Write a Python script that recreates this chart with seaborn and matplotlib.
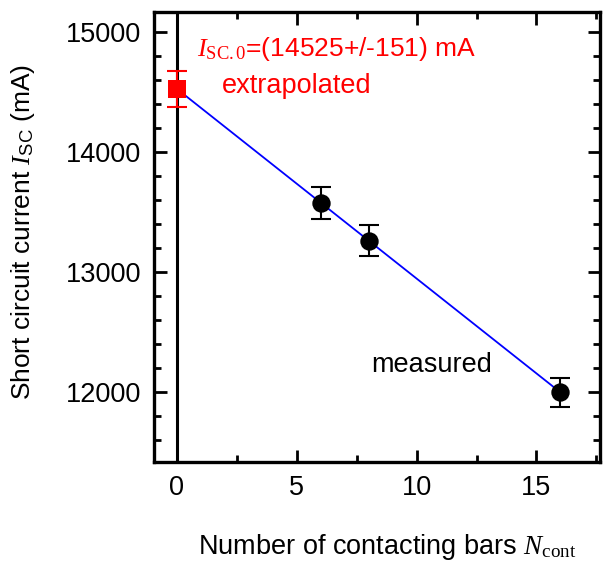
import numpy as np
import pandas as pd
import matplotlib
matplotlib.use("Agg")
import matplotlib.pyplot as plt
import seaborn as sns
from matplotlib.ticker import MultipleLocator

# measured points
n_cont = [6, 8, 16]
i_sc = [13575, 13258, 11995]
i_sc_err = [135, 130, 120]

# extrapolated value at N_cont = 0
n_extra = [0]
i_extra = [14525]
i_extra_err = [151]

# linear fit endpoints
fit_x = [0, 16]
fit_y = [14525, 11995]

sns.set_theme(style="ticks")
plt.rcParams['font.family'] = ['Liberation Sans', 'DejaVu Sans']
plt.rcParams['mathtext.fontset'] = 'custom'
plt.rcParams['mathtext.rm'] = 'Liberation Serif'
plt.rcParams['mathtext.it'] = 'Liberation Serif:italic'
plt.rcParams['mathtext.sf'] = 'Liberation Sans'
plt.rcParams['text.color'] = 'black'
plt.rcParams['axes.labelcolor'] = 'black'
plt.rcParams['xtick.color'] = 'black'
plt.rcParams['ytick.color'] = 'black'

FS = 19.5

df = pd.DataFrame({'n': n_cont, 'isc': i_sc, 'err': i_sc_err})
df_fit = pd.DataFrame({'n': fit_x, 'isc': fit_y})

fig = plt.figure(figsize=(6.07, 5.65), dpi=100)
ax = fig.add_axes([0.2537, 0.1823, 0.7348, 0.7965])

ax.axvline(0, color='black', lw=2.2, zorder=1)
sns.lineplot(data=df_fit, x='n', y='isc', color='#0000ff', lw=1.3, ax=ax, zorder=2)
ax.errorbar(df['n'], df['isc'], yerr=df['err'], fmt='none', ecolor='black',
            elinewidth=1.5, capsize=7, capthick=1.5, zorder=3)
sns.scatterplot(data=df, x='n', y='isc', color='black', s=175, edgecolor='black',
                linewidth=0, ax=ax, zorder=4)
ax.errorbar(n_extra, i_extra, yerr=i_extra_err, fmt='none', ecolor='red',
            elinewidth=1.5, capsize=7, capthick=1.5, zorder=3)
ax.scatter(n_extra, i_extra, marker='s', color='red', s=150, linewidth=0, zorder=4)

ax.text(0.85, 14860, r'$I_{\mathrm{SC.0}}$=(14525+/-151) mA', color='red',
        fontsize=19, va='center', ha='left')
ax.text(1.9, 14545, 'extrapolated', color='red', fontsize=FS, va='center', ha='left')
ax.text(8.1, 12225, 'measured', color='black', fontsize=FS, va='center', ha='left')

ax.set_xlim(-0.95, 17.65)
ax.set_ylim(11415, 15165)
ax.xaxis.set_major_locator(MultipleLocator(5))
ax.xaxis.set_minor_locator(MultipleLocator(2.5))
ax.yaxis.set_major_locator(MultipleLocator(1000))
ax.yaxis.set_minor_locator(MultipleLocator(200))

ax.tick_params(which='both', direction='in', top=True, right=True, width=2,
               labelsize=FS, pad=9)
ax.tick_params(which='major', length=9)
ax.tick_params(which='minor', length=5)
for sp in ax.spines.values():
    sp.set_linewidth(2.4)
    sp.set_color('black')

ax.set_xlabel(r'Number of contacting bars $N_{\mathrm{cont}}$', fontsize=FS)
ax.set_ylabel(r'Short circuit current $I_{\mathsf{SC}}$ (mA)', fontsize=19)
ax.xaxis.set_label_coords(0.522, -0.155, transform=ax.transAxes)
ax.yaxis.set_label_coords(-0.263, 0.51, transform=ax.transAxes)

fig.savefig('out.png', dpi=100)
